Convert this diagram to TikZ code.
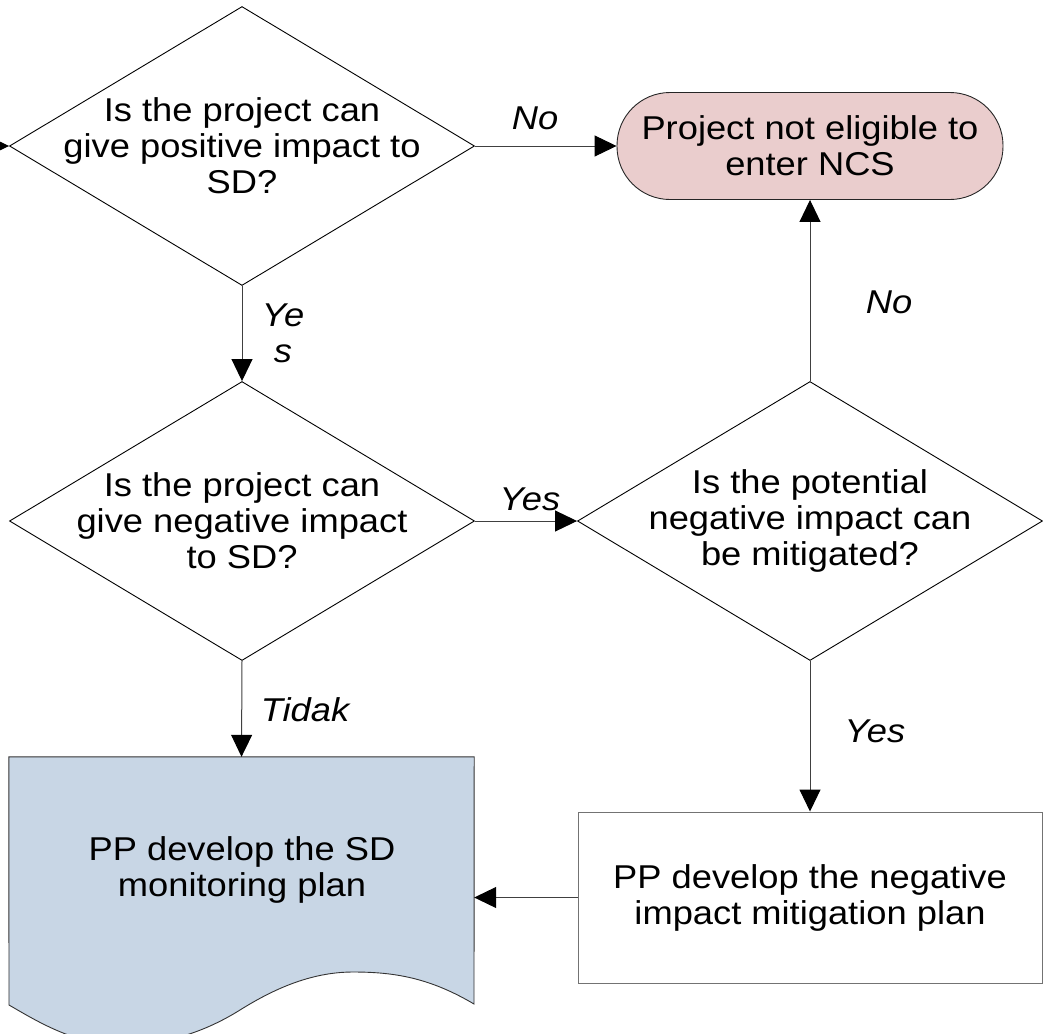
\documentclass[tikz,border=0pt]{standalone}
\usepackage{fontspec}
\setmainfont{Liberation Sans}[FakeStretch=1.1]
\usetikzlibrary{shapes.geometric,arrows.meta}
\definecolor{termfill}{RGB}{234,205,205}
\definecolor{docfill}{RGB}{200,214,229}
\begin{document}
\begin{tikzpicture}[x=1pt,y=-1pt,
  dia/.style={diamond, draw=black, line width=0.9pt, minimum width=465pt, minimum height=279pt, inner sep=0pt},
  txt/.style={align=center, font=\fontsize{33}{36}\selectfont, inner sep=0pt},
  lbl/.style={align=center, font=\fontsize{33}{36}\selectfont\itshape, inner sep=0pt},
  arr/.style={draw=black!75, line width=1pt, -{Triangle[length=22pt,width=21pt,color=black]}},
  term/.style={draw=black!85, line width=0.9pt, fill=termfill, rounded corners=53pt, minimum width=386pt, minimum height=107pt, inner sep=0pt, align=center, font=\fontsize{33}{36}\selectfont},
  procbox/.style={draw=black!55, line width=1pt, minimum width=464pt, minimum height=171pt, inner sep=0pt, align=center, font=\fontsize{33}{36}\selectfont},
  docarea/.style={minimum width=465pt, minimum height=248pt, inner sep=0pt}]
\useasboundingbox (0,0) rectangle (1043,1033);

% shapes
\node[dia] (d1) at (242,146) {};
\node[txt] (d1t) at (242,146) {Is the project can\\give positive impact to\\SD?};
\node[dia] (d2) at (242,521) {};
\node[txt] (d2t) at (242,521) {Is the project can\\give negative impact\\to SD?};
\node[dia] (d3) at (810,521) {};
\node[txt] (d3t) at (810,521) {Is the potential\\negative impact can\\be mitigated?};
\node[term] (t) at (810,146) {Project not eligible to\\enter NCS};
\node[procbox] (r) at (810,897.5) {PP develop the negative\\impact mitigation plan};

\node[docarea] (doc) at (241.5,881) {};
\filldraw[fill=docfill, draw=black!80, line width=0.9pt]
  (doc.north west) -- (doc.north east) -- (474,1004)
  .. controls (430,978) and (395,972) .. (353,972)
  .. controls (310,972) and (272,990) .. (240,1010)
  .. controls (200,1035) and (160,1045) .. (120,1045)
  .. controls (75,1045) and (35,1020) .. (9,1005) -- cycle;
\node[txt] (doct) at (242,870) {PP develop the SD\\monitoring plan};

% connectors
\coordinate (in) at (-40,146);
\draw[arr] (in) -- (d1.west);
\draw[arr] (d1.east) -- (t.west);
\draw[arr] (d3.north) -- (t.south);
\draw[arr] (d1.south) -- (d2.north);
\draw[arr] (d2.east) -- (d3.west);
\draw[arr] (d2.south) -- (doc.north);
\draw[arr] (d3.south) -- (r.north);
\draw[arr] (r.west) -- (r.west -| doc.east);

% labels
\node[lbl] (l1) at (535,118) {No};
\node[lbl] (l2) at (889,302) {No};
\node[lbl] (l3) at (283,333) {Ye\\s};
\node[lbl] (l4) at (530,499) {Yes};
\node[lbl] (l5) at (305,710) {Tidak};
\node[lbl] (l6) at (875,731) {Yes};
\end{tikzpicture}
\end{document}
